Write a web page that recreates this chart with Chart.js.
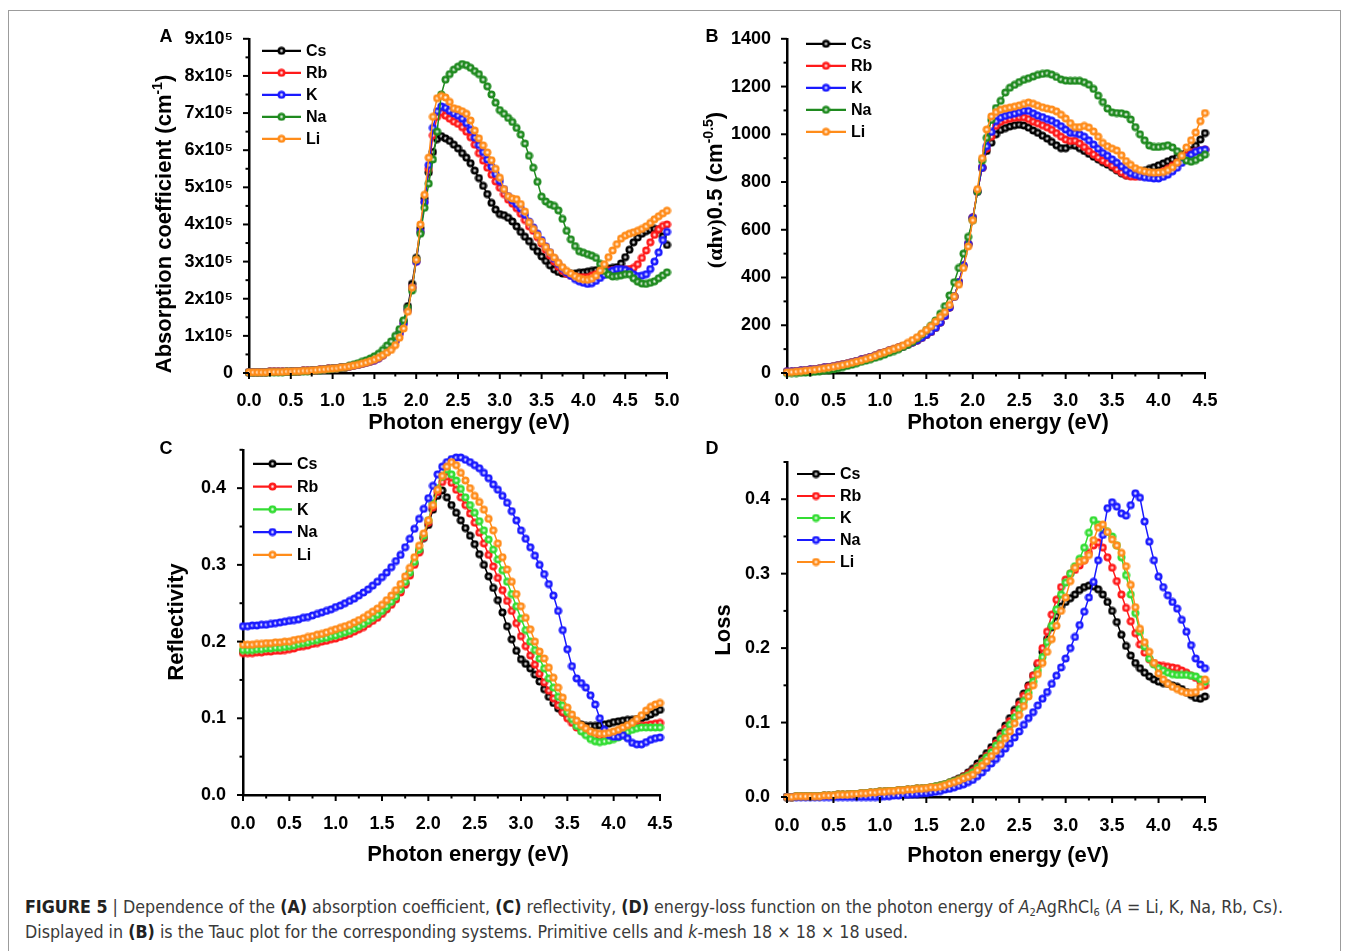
<!DOCTYPE html>
<html>
<head>
<meta charset="utf-8">
<title>Figure 5</title>
<script src="https://cdn.jsdelivr.net/npm/chart.js@4.4.1/dist/chart.umd.min.js"></script>
<style>
  body { margin: 0; background: #fff; width: 1348px; height: 951px; position: relative; overflow: hidden; }
  .frame { position: absolute; left: 8px; top: 10px; width: 1331px; height: 970px; border: 1px solid #9c9c9c; }
  canvas { position: absolute; }
  .caption {
    position: absolute; left: 25px; top: 895px; white-space: nowrap;
    font-family: "Liberation Sans Narrow", "DejaVu Sans Condensed", sans-serif;
    font-size: 17.7px; line-height: 25px; color: #3a3a3a;
  }
  .caption b { color: #222; }
  .caption sub { font-size: 11px; line-height: 0; vertical-align: -3px; }
</style>
</head>
<body>
<div class="frame"></div>
<canvas id="chartA" width="550" height="420" style="left:140px;top:20px;width:550px;height:420px"></canvas>
<canvas id="chartB" width="550" height="420" style="left:690px;top:20px;width:550px;height:420px"></canvas>
<canvas id="chartC" width="550" height="445" style="left:140px;top:430px;width:550px;height:445px"></canvas>
<canvas id="chartD" width="550" height="445" style="left:690px;top:430px;width:550px;height:445px"></canvas>
<div class="caption"><b>FIGURE 5</b> | Dependence of the <b>(A)</b> absorption coefficient, <b>(C)</b> reflectivity, <b>(D)</b> energy-loss function on the photon energy of <i>A</i><sub>2</sub>AgRhCl<sub>6</sub> (<i>A</i> = Li, K, Na, Rb, Cs).<br>Displayed in <b>(B)</b> is the Tauc plot for the corresponding systems. Primitive cells and <i>k</i>-mesh 18 × 18 × 18 used.</div>

<script>
const FONT = '"Liberation Sans", Arial, Helvetica, sans-serif';

// photon energy (eV)
const energyA = [0.00,0.05,0.10,0.15,0.20,0.25,0.30,0.35,0.40,0.45, 0.50,0.55,0.60,0.65,0.70,0.75,0.80,0.85,0.90,0.95,
  1.00,1.05,1.10,1.15,1.20,1.25,1.30,1.35,1.40,1.45, 1.50,1.55,1.60,1.65,1.70,1.75,1.80,1.85,1.90,1.95,
  2.00,2.05,2.10,2.15,2.20,2.25,2.30,2.35,2.40,2.45, 2.50,2.55,2.60,2.65,2.70,2.75,2.80,2.85,2.90,2.95,
  3.00,3.05,3.10,3.15,3.20,3.25,3.30,3.35,3.40,3.45, 3.50,3.55,3.60,3.65,3.70,3.75,3.80,3.85,3.90,3.95,
  4.00,4.05,4.10,4.15,4.20,4.25,4.30,4.35,4.40,4.45, 4.50,4.55,4.60,4.65,4.70,4.75,4.80,4.85,4.90,4.95, 5.00];
const energy = [0.00,0.05,0.10,0.15,0.20,0.25,0.30,0.35,0.40,0.45, 0.50,0.55,0.60,0.65,0.70,0.75,0.80,0.85,0.90,0.95,
  1.00,1.05,1.10,1.15,1.20,1.25,1.30,1.35,1.40,1.45, 1.50,1.55,1.60,1.65,1.70,1.75,1.80,1.85,1.90,1.95,
  2.00,2.05,2.10,2.15,2.20,2.25,2.30,2.35,2.40,2.45, 2.50,2.55,2.60,2.65,2.70,2.75,2.80,2.85,2.90,2.95,
  3.00,3.05,3.10,3.15,3.20,3.25,3.30,3.35,3.40,3.45, 3.50,3.55,3.60,3.65,3.70,3.75,3.80,3.85,3.90,3.95,
  4.00,4.05,4.10,4.15,4.20,4.25,4.30,4.35,4.40,4.45, 4.50];

// tick labels
const energyTicksA = ['0.0','0.5','1.0','1.5','2.0','2.5','3.0','3.5','4.0','4.5','5.0'];
const energyTicks = ['0.0','0.5','1.0','1.5','2.0','2.5','3.0','3.5','4.0','4.5'];
const absTicks = ['0','1x10⁵','2x10⁵','3x10⁵','4x10⁵','5x10⁵','6x10⁵','7x10⁵','8x10⁵','9x10⁵'];
const taucTicks = ['0','200','400','600','800','1000','1200','1400'];
const reflTicks = ['0.0','0.1','0.2','0.3','0.4'];
const lossTicks = ['0.0','0.1','0.2','0.3','0.4'];

// (A) absorption coefficient, units of 1x10^5 cm^-1
const absCs = [.02,.02,.02,.02,.02,.03,.03,.03,.03,.04, .04,.05,.05,.06,.06,.07,.08,.09,.10,.11,
  .12,.13,.15,.16,.18,.20,.22,.25,.28,.32, .36,.42,.50,.60,.72,.88,1.10,1.40,1.80,2.40,
  3.10,3.90,4.70,5.40,5.95,6.30,6.38,6.32,6.25,6.15, 6.05,5.92,5.80,5.65,5.45,5.25,5.04,4.82,4.58,4.40,
  4.28,4.25,4.18,4.08,3.95,3.80,3.67,3.55,3.40,3.28, 3.14,3.02,2.90,2.79,2.72,2.68,2.67,2.67,2.68,2.70,
  2.71,2.73,2.75,2.77,2.78,2.80,2.81,2.83,2.85,2.95, 3.12,3.32,3.52,3.65,3.75,3.82,3.86,3.88,3.86,3.68, 3.45];
const absRb = [.02,.02,.02,.02,.02,.03,.03,.03,.03,.04, .04,.05,.05,.06,.06,.07,.08,.09,.10,.11,
  .12,.13,.15,.16,.18,.20,.22,.25,.28,.31, .35,.40,.48,.58,.70,.85,1.05,1.33,1.70,2.30,
  3.00,3.80,4.60,5.50,6.40,6.90,7.02,6.93,6.85,6.77, 6.71,6.62,6.50,6.35,6.15,5.92,5.72,5.53,5.34,5.16,
  4.99,4.82,4.67,4.56,4.44,4.29,4.12,3.95,3.83,3.66, 3.49,3.32,3.16,3.00,2.86,2.75,2.67,2.62,2.59,2.58,
  2.58,2.58,2.62,2.66,2.69,2.72,2.75,2.77,2.79,2.79, 2.79,2.80,2.83,2.93,3.10,3.30,3.52,3.72,3.87,3.96, 4.00];
const absK = [.02,.02,.02,.02,.02,.03,.03,.03,.03,.04, .04,.05,.05,.06,.06,.07,.08,.09,.10,.11,
  .12,.13,.15,.16,.18,.20,.22,.25,.28,.31, .35,.40,.48,.58,.70,.85,1.05,1.33,1.70,2.30,
  3.00,3.80,4.60,5.60,6.60,7.05,7.18,7.14,7.06,6.99, 6.93,6.85,6.73,6.55,6.34,6.14,5.95,5.75,5.56,5.36,
  5.17,4.95,4.76,4.65,4.55,4.43,4.26,4.08,3.92,3.75, 3.58,3.41,3.25,3.08,2.94,2.82,2.71,2.62,2.53,2.47,
  2.43,2.40,2.42,2.48,2.56,2.64,2.71,2.76,2.80,2.80, 2.78,2.73,2.66,2.61,2.62,2.66,2.80,3.00,3.25,3.58, 3.80];
const absNa = [.01,.01,.01,.01,.01,.02,.02,.02,.02,.03, .03,.03,.04,.04,.05,.06,.07,.08,.09,.10,
  .11,.12,.14,.16,.19,.22,.26,.30,.34,.39, .45,.52,.62,.74,.85,1.00,1.18,1.42,1.75,2.22,
  3.05,3.75,4.45,5.10,5.75,6.50,7.50,7.90,8.05,8.17, 8.25,8.32,8.29,8.22,8.13,8.05,7.90,7.72,7.50,7.28,
  7.08,6.98,6.87,6.76,6.60,6.42,6.18,5.85,5.53,5.15, 4.75,4.62,4.54,4.50,4.38,4.15,3.83,3.60,3.42,3.28,
  3.24,3.20,3.16,3.10,2.94,2.75,2.65,2.60,2.61,2.63, 2.66,2.66,2.55,2.46,2.41,2.40,2.43,2.47,2.55,2.63, 2.71];
const absLi = [.02,.02,.02,.02,.02,.03,.03,.03,.03,.04, .04,.05,.05,.06,.06,.07,.08,.09,.10,.11,
  .12,.13,.15,.16,.18,.20,.22,.25,.28,.32, .36,.41,.48,.55,.62,.75,.95,1.20,1.65,2.30,
  3.05,4.00,4.80,5.80,6.90,7.40,7.46,7.42,7.30,7.13, 7.10,7.05,6.98,6.80,6.53,6.32,6.13,5.94,5.73,5.50,
  5.26,4.95,4.76,4.70,4.68,4.55,4.35,4.06,3.88,3.71, 3.54,3.39,3.25,3.11,2.97,2.85,2.75,2.68,2.61,2.55,
  2.52,2.51,2.54,2.62,2.76,2.93,3.12,3.30,3.47,3.62, 3.70,3.75,3.79,3.83,3.88,3.95,4.04,4.14,4.22,4.30, 4.37];

// (B) Tauc plot, (alpha h nu)^0.5
const taucCs = [5,6,8,10,12,14,16,19,22,25, 28,32,36,40,45,50,55,61,67,73,
  80,86,93,99,106,113,120,128,137,148, 160,173,190,212,240,275,320,380,450,540,
  650,760,860,930,965,1000,1018,1026,1033,1038, 1040,1037,1028,1016,1006,994,982,968,954,942,
  942,955,952,942,930,918,906,895,883,873, 862,849,837,829,827,831,840,847,855,862,
  870,878,887,895,904,914,924,934,952,978, 1005];
const taucRb = [5,6,8,10,12,14,16,19,22,25, 28,32,36,40,45,50,55,61,67,73,
  80,86,93,99,106,113,120,128,137,148, 160,173,190,212,240,275,320,380,450,540,
  650,760,860,940,990,1035,1052,1060,1065,1069, 1071,1071,1064,1053,1046,1038,1029,1019,1005,990,
  978,972,973,962,947,930,916,903,890,880, 868,853,840,829,823,822,824,827,830,833,
  837,845,855,868,881,897,912,922,929,933, 936];
const taucK = [5,6,8,10,12,14,16,19,22,25, 28,32,36,40,45,50,55,61,67,73,
  80,86,93,99,106,113,120,128,137,148, 160,173,190,212,240,275,320,380,450,540,
  650,760,860,950,1010,1055,1070,1077,1082,1087, 1093,1099,1098,1088,1078,1072,1064,1057,1047,1034,
  1020,1006,1005,1000,990,975,957,940,922,910, 895,881,866,850,837,830,825,820,817,815,
  815,822,831,845,860,880,901,915,927,933, 936];
const taucNa = [0,0,0,1,2,3,5,7,10,12, 15,20,25,30,35,41,47,52,58,64,
  70,77,85,92,100,109,118,130,145,162, 180,198,220,248,280,325,380,440,500,570,
  640,760,890,985,1060,1110,1140,1175,1195,1207, 1219,1228,1235,1242,1249,1253,1256,1250,1240,1230,
  1225,1224,1224,1224,1218,1208,1190,1162,1135,1108, 1092,1089,1088,1083,1062,1030,1000,975,953,947,
  947,950,954,945,929,905,890,885,892,902, 915];
const taucLi = [3,4,6,8,10,12,14,17,20,23, 26,30,34,38,43,48,53,59,65,72,
  80,87,94,101,108,116,126,138,150,165, 180,196,215,235,255,285,320,370,440,530,
  640,770,900,1020,1075,1093,1103,1108,1112,1116, 1121,1127,1133,1128,1120,1113,1108,1104,1096,1082,
  1066,1047,1030,1030,1035,1028,1012,990,964,950, 940,932,912,888,872,858,850,845,841,839,
  840,842,850,862,881,910,945,975,1008,1055, 1089];

// (C) reflectivity
const reflCs = [.187,.187,.187,.188,.188,.189,.189,.190,.190,.191, .192,.193,.195,.196,.197,.199,.200,.202,.203,.205,
  .206,.208,.210,.212,.215,.218,.221,.225,.229,.233, .238,.244,.250,.257,.266,.276,.288,.302,.318,.335,
  .352,.372,.390,.397,.388,.378,.368,.358,.348,.338, .327,.314,.300,.285,.270,.254,.238,.220,.203,.188,
  .177,.171,.165,.157,.148,.138,.128,.120,.113,.108, .103,.099,.095,.092,.090,.090,.090,.091,.092,.093,
  .095,.096,.097,.098,.098,.099,.100,.102,.105,.108, .111];
const reflRb = [.185,.185,.185,.186,.186,.187,.187,.188,.188,.189, .190,.191,.193,.194,.195,.197,.198,.200,.201,.203,
  .204,.206,.208,.210,.213,.216,.219,.223,.227,.231, .236,.242,.248,.255,.264,.274,.286,.300,.316,.336,
  .355,.375,.395,.408,.415,.407,.398,.388,.378,.367, .355,.342,.328,.313,.298,.283,.267,.253,.240,.224,
  .207,.194,.182,.170,.158,.147,.136,.126,.117,.108, .100,.094,.088,.084,.080,.078,.076,.076,.077,.078,
  .079,.081,.083,.086,.088,.089,.090,.091,.092,.093, .094];
const reflK = [.189,.189,.189,.190,.190,.191,.191,.192,.192,.193, .194,.195,.197,.198,.199,.201,.202,.204,.205,.207,
  .208,.210,.212,.214,.217,.220,.223,.227,.231,.235, .240,.246,.252,.259,.268,.278,.290,.304,.320,.338,
  .358,.380,.400,.415,.424,.418,.410,.399,.388,.378, .368,.357,.345,.333,.320,.307,.293,.278,.262,.246,
  .230,.215,.200,.189,.178,.165,.152,.140,.128,.117, .108,.099,.090,.083,.078,.073,.070,.069,.070,.071,
  .073,.075,.078,.082,.085,.087,.088,.088,.088,.088, .088];
const reflNa = [.220,.220,.221,.221,.222,.222,.223,.224,.225,.226, .227,.228,.229,.231,.232,.234,.236,.238,.240,.242,
  .245,.247,.250,.253,.256,.260,.264,.268,.273,.278, .284,.290,.297,.305,.313,.323,.334,.347,.360,.373,
  .387,.403,.418,.428,.434,.438,.440,.440,.437,.434, .430,.426,.420,.413,.405,.398,.390,.381,.370,.358,
  .345,.334,.323,.312,.300,.288,.275,.260,.240,.215, .190,.168,.152,.146,.140,.130,.118,.100,.085,.078,
  .076,.076,.078,.074,.068,.066,.066,.069,.072,.074, .075];
const reflLi = [.196,.196,.196,.197,.197,.198,.198,.199,.199,.200, .200,.202,.203,.204,.206,.207,.209,.210,.212,.214,
  .216,.218,.220,.222,.225,.228,.231,.235,.239,.243, .248,.254,.260,.267,.275,.285,.296,.310,.325,.341,
  .358,.378,.398,.416,.428,.434,.430,.420,.410,.400, .390,.382,.372,.360,.345,.328,.310,.294,.278,.262,
  .246,.231,.216,.200,.187,.178,.166,.153,.140,.127, .114,.105,.097,.091,.087,.083,.081,.080,.080,.081,
  .083,.085,.088,.091,.094,.099,.104,.110,.115,.118, .120];

// (D) energy-loss function
const lossCs = [.000,.000,.001,.001,.001,.001,.001,.001,.002,.002, .002,.003,.003,.003,.004,.004,.005,.005,.006,.006,
  .007,.007,.008,.008,.009,.009,.010,.010,.011,.011, .012,.013,.014,.015,.017,.019,.022,.025,.028,.033,
  .038,.045,.052,.059,.067,.076,.086,.096,.106,.117, .128,.139,.150,.163,.178,.195,.212,.228,.243,.256,
  .262,.267,.272,.278,.282,.284,.283,.279,.272,.262, .250,.235,.218,.203,.190,.180,.173,.167,.162,.158,
  .155,.153,.152,.150,.148,.145,.141,.137,.133,.132, .135];
const lossRb = [.000,.000,.001,.001,.001,.001,.001,.001,.002,.002, .002,.003,.003,.003,.004,.004,.005,.005,.006,.006,
  .007,.007,.008,.008,.009,.009,.010,.010,.011,.011, .012,.013,.014,.015,.017,.019,.021,.024,.027,.031,
  .035,.041,.048,.055,.063,.072,.082,.092,.102,.113, .124,.136,.148,.163,.180,.200,.222,.245,.265,.282,
  .292,.300,.305,.311,.318,.328,.338,.342,.335,.322, .308,.290,.272,.254,.236,.220,.205,.194,.185,.180,
  .177,.176,.175,.174,.173,.170,.167,.163,.160,.155, .150];
const lossK = [.000,.000,.001,.001,.001,.001,.001,.001,.002,.002, .002,.003,.003,.003,.004,.004,.005,.005,.006,.006,
  .007,.007,.008,.008,.009,.009,.010,.010,.011,.011, .012,.013,.014,.015,.017,.019,.021,.023,.026,.029,
  .033,.039,.046,.053,.060,.069,.078,.087,.097,.107, .118,.129,.140,.155,.170,.188,.208,.230,.252,.272,
  .288,.300,.310,.320,.335,.355,.372,.366,.360,.356, .350,.338,.322,.298,.272,.247,.222,.202,.186,.178,
  .173,.170,.167,.165,.164,.164,.164,.163,.162,.158, .155];
const lossNa = [0,0,0,0,0,0,0,0,0,0, 0,0,0,0,0,0,0,0,0,0,
  .000,.001,.001,.002,.002,.003,.003,.004,.004,.005, .005,.006,.007,.008,.010,.011,.013,.015,.017,.020,
  .023,.028,.033,.039,.045,.051,.058,.065,.072,.080, .088,.097,.106,.114,.123,.132,.141,.152,.163,.174,
  .186,.200,.215,.231,.249,.268,.289,.318,.352,.388, .396,.390,.381,.378,.392,.408,.402,.370,.343,.318,
  .296,.282,.271,.262,.253,.238,.222,.204,.186,.178, .173];
const lossLi = [.000,.000,.001,.001,.001,.001,.001,.001,.002,.002, .002,.003,.003,.003,.004,.004,.005,.005,.006,.006,
  .007,.007,.008,.008,.009,.009,.010,.010,.011,.011, .012,.013,.013,.014,.016,.018,.020,.022,.025,.027,
  .030,.036,.042,.048,.055,.062,.070,.079,.088,.099, .110,.122,.135,.150,.165,.180,.195,.212,.230,.250,
  .268,.290,.308,.316,.318,.325,.345,.362,.366,.356, .346,.338,.328,.310,.285,.255,.226,.208,.195,.180,
  .166,.158,.152,.148,.145,.142,.140,.140,.141,.148, .158];

const BLACK = '#000000', RED = '#ff1a1a', BLUE = '#1a1aff', DKGREEN = '#1f8a1f', GREEN = '#33dd33', ORANGE = '#ff8c1a';

function mixWhite(hex, f) {
  const n = parseInt(hex.slice(1), 16);
  const m = c => Math.round(c + (255 - c) * f);
  return `rgb(${m((n >> 16) & 255)},${m((n >> 8) & 255)},${m(n & 255)})`;
}

// solid ball marker with a small white highlight, like the original symbols
function markerSprite(hex) {
  const c = document.createElement('canvas');
  c.width = 9; c.height = 9;
  const g = c.getContext('2d');
  const grad = g.createRadialGradient(4.5, 4.5, 0, 4.5, 4.5, 4.0);
  grad.addColorStop(0, mixWhite(hex, 0.95));
  grad.addColorStop(0.28, mixWhite(hex, 0.55));
  grad.addColorStop(0.55, hex);
  grad.addColorStop(1, hex);
  g.fillStyle = grad;
  g.beginPath();
  g.arc(4.5, 4.5, 4.0, 0, Math.PI * 2);
  g.fill();
  return c;
}

function isMultiple(v, step) {
  const k = v / step;
  return Math.abs(k - Math.round(k)) < 1e-6;
}

// text made of normal and superscript pieces, centred on (cx, cy)
function drawRich(ctx, parts, cx, cy, rotate, size) {
  const fontOf = p => `bold ${p.sup ? Math.round(size * 0.62) : size}px ${p.serif ? '"Liberation Serif", "Times New Roman", serif' : FONT}`;
  ctx.save();
  ctx.translate(cx, cy);
  if (rotate) ctx.rotate(-Math.PI / 2);
  const widths = parts.map(p => { ctx.font = fontOf(p); return ctx.measureText(p.t).width; });
  let x = -widths.reduce((a, b) => a + b, 0) / 2;
  ctx.fillStyle = '#000';
  ctx.textAlign = 'left';
  ctx.textBaseline = 'alphabetic';
  parts.forEach((p, i) => {
    ctx.font = fontOf(p);
    ctx.fillText(p.t, x, size * 0.36 - (p.sup ? size * 0.42 : 0));
    x += widths[i];
  });
  ctx.restore();
}

function decorPlugin(cfg) {
  return {
    id: 'decor',
    afterDraw(chart) {
      const ctx = chart.ctx, a = chart.chartArea;
      // outward major / minor tick marks
      ctx.save();
      ctx.strokeStyle = '#000';
      ctx.lineWidth = 2;
      chart.scales.x.ticks.forEach(t => {
        const p = chart.scales.x.getPixelForValue(t.value);
        const len = isMultiple(t.value, cfg.xMajor) ? 6 : 3.5;
        ctx.beginPath(); ctx.moveTo(p, a.bottom); ctx.lineTo(p, a.bottom + len); ctx.stroke();
      });
      chart.scales.y.ticks.forEach(t => {
        const p = chart.scales.y.getPixelForValue(t.value);
        const len = isMultiple(t.value, cfg.yMajor) ? 6 : 3.5;
        ctx.beginPath(); ctx.moveTo(a.left, p); ctx.lineTo(a.left - len, p); ctx.stroke();
      });
      ctx.restore();

      // legend inside the plot, top-left
      const L = cfg.legend;
      cfg.series.forEach((s, i) => {
        const y = a.top + L.dy + i * L.gap;
        const x0 = a.left + L.dx;
        ctx.save();
        ctx.strokeStyle = s.color;
        ctx.lineWidth = 2.2;
        ctx.beginPath(); ctx.moveTo(x0, y); ctx.lineTo(x0 + L.len, y); ctx.stroke();
        ctx.drawImage(s.sprite, x0 + L.len / 2 - 4.5, y - 4.5);
        ctx.font = `bold 16px ${FONT}`;
        ctx.fillStyle = '#000';
        ctx.textBaseline = 'middle';
        ctx.fillText(s.name, x0 + L.len + 5, y + 1);
        ctx.restore();
      });

      // panel letter and axis titles
      ctx.save();
      ctx.font = `bold 18px ${FONT}`;
      ctx.fillStyle = '#000';
      ctx.textAlign = 'center';
      ctx.textBaseline = 'middle';
      ctx.fillText(cfg.letter, cfg.letterPos[0], cfg.letterPos[1]);
      ctx.restore();
      drawRich(ctx, [{t: 'Photon energy (eV)'}], cfg.xTitlePos[0], cfg.xTitlePos[1], false, 22);
      drawRich(ctx, cfg.yTitle, cfg.yTitlePos[0], cfg.yTitlePos[1], true, 22);
    }
  };
}

function makePanel(id, cfg) {
  cfg.series.forEach(s => { s.sprite = markerSprite(s.color); });
  const tickFont = {family: FONT, size: 18, weight: 'bold'};
  const stepTicks = (max, step) => scale => {
    const t = [];
    for (let v = 0; v <= max + 1e-9; v += step) t.push({value: +v.toFixed(4)});
    scale.ticks = t;
  };
  const labelOf = (labels, major) => v => isMultiple(v, major) ? (labels[Math.round(v / major)] ?? '') : '';

  return new Chart(document.getElementById(id), {
    type: 'scatter',
    data: {
      datasets: cfg.series.map((s, i) => ({
        label: s.name,
        data: cfg.x.map((e, j) => ({x: e, y: s.values[j]})),
        showLine: true,
        borderColor: s.color,
        borderWidth: 1.5,
        pointStyle: s.sprite,
        pointRadius: 4,
        order: cfg.series.length - i,
        clip: 8
      }))
    },
    options: {
      responsive: false,
      animation: false,
      layout: {padding: cfg.pad},
      plugins: {legend: {display: false}, tooltip: {enabled: false}},
      scales: {
        x: {
          type: 'linear', min: 0, max: cfg.xMax,
          afterBuildTicks: stepTicks(cfg.xMax, cfg.xStep),
          afterFit: s => { s.height = cfg.xH; },
          grid: {display: false},
          border: {display: true, color: '#000', width: 2.5},
          ticks: {autoSkip: false, maxRotation: 0, padding: cfg.xPad, color: '#000', font: tickFont,
                  callback: labelOf(cfg.xLabels, cfg.xMajor)}
        },
        y: {
          type: 'linear', min: 0, max: cfg.yMax,
          afterBuildTicks: stepTicks(cfg.yMax, cfg.yStep),
          afterFit: s => { s.width = cfg.yW; },
          grid: {display: false},
          border: {display: true, color: '#000', width: 2.5},
          ticks: {autoSkip: false, padding: cfg.yPad, color: '#000', font: tickFont,
                  callback: labelOf(cfg.yLabels, cfg.yMajor)}
        }
      }
    },
    plugins: [decorPlugin(cfg)]
  });
}

makePanel('chartA', {
  x: energyA, xMax: 5, xStep: 0.25, xMajor: 0.5, xLabels: energyTicksA,
  yMax: 9, yStep: 0.5, yMajor: 1, yLabels: absTicks,
  yW: 109, xH: 67, pad: {top: 17, right: 23, left: 0, bottom: 0}, xPad: 9, yPad: 8,
  letter: 'A', letterPos: [26, 17], xTitlePos: [329, 401], yTitlePos: [23, 204],
  yTitle: [{t: 'Absorption coefficient (cm'}, {t: '-1', sup: true}, {t: ')'}],
  legend: {dx: 13, dy: 12, gap: 22, len: 39},
  series: [
    {name: 'Cs', color: BLACK, values: absCs},
    {name: 'Rb', color: RED, values: absRb},
    {name: 'K', color: BLUE, values: absK},
    {name: 'Na', color: DKGREEN, values: absNa},
    {name: 'Li', color: ORANGE, values: absLi}
  ]
});

makePanel('chartB', {
  x: energy, xMax: 4.5, xStep: 0.25, xMajor: 0.5, xLabels: energyTicks,
  yMax: 1400, yStep: 100, yMajor: 200, yLabels: taucTicks,
  yW: 97, xH: 67, pad: {top: 17, right: 35, left: 0, bottom: 0}, xPad: 9, yPad: 8,
  letter: 'B', letterPos: [22, 17], xTitlePos: [318, 401], yTitlePos: [24, 170],
  yTitle: [{t: '(αhν)', serif: true}, {t: '0.5 (cm'}, {t: '-0.5', sup: true}, {t: ')'}],
  legend: {dx: 19, dy: 5, gap: 22, len: 40},
  series: [
    {name: 'Cs', color: BLACK, values: taucCs},
    {name: 'Rb', color: RED, values: taucRb},
    {name: 'K', color: BLUE, values: taucK},
    {name: 'Na', color: DKGREEN, values: taucNa},
    {name: 'Li', color: ORANGE, values: taucLi}
  ]
});

makePanel('chartC', {
  x: energy, xMax: 4.5, xStep: 0.25, xMajor: 0.5, xLabels: energyTicks,
  yMax: 0.45, yStep: 0.05, yMajor: 0.1, yLabels: reflTicks,
  yW: 103, xH: 80, pad: {top: 14, right: 30, left: 0, bottom: 0}, xPad: 10, yPad: 9,
  letter: 'C', letterPos: [26, 19], xTitlePos: [328, 423], yTitlePos: [35, 192],
  yTitle: [{t: 'Reflectivity'}],
  legend: {dx: 10, dy: 14, gap: 22.75, len: 39},
  series: [
    {name: 'Cs', color: BLACK, values: reflCs},
    {name: 'Rb', color: RED, values: reflRb},
    {name: 'K', color: GREEN, values: reflK},
    {name: 'Na', color: BLUE, values: reflNa},
    {name: 'Li', color: ORANGE, values: reflLi}
  ]
});

makePanel('chartD', {
  x: energy, xMax: 4.5, xStep: 0.25, xMajor: 0.5, xLabels: energyTicks,
  yMax: 0.45, yStep: 0.05, yMajor: 0.1, yLabels: lossTicks,
  yW: 97, xH: 78, pad: {top: 32, right: 35, left: 0, bottom: 0}, xPad: 10, yPad: 9,
  letter: 'D', letterPos: [22, 19], xTitlePos: [318, 424], yTitlePos: [32, 200],
  yTitle: [{t: 'Loss'}],
  legend: {dx: 10, dy: 12, gap: 22, len: 38},
  series: [
    {name: 'Cs', color: BLACK, values: lossCs},
    {name: 'Rb', color: RED, values: lossRb},
    {name: 'K', color: GREEN, values: lossK},
    {name: 'Na', color: BLUE, values: lossNa},
    {name: 'Li', color: ORANGE, values: lossLi}
  ]
});
</script>
</body>
</html>
